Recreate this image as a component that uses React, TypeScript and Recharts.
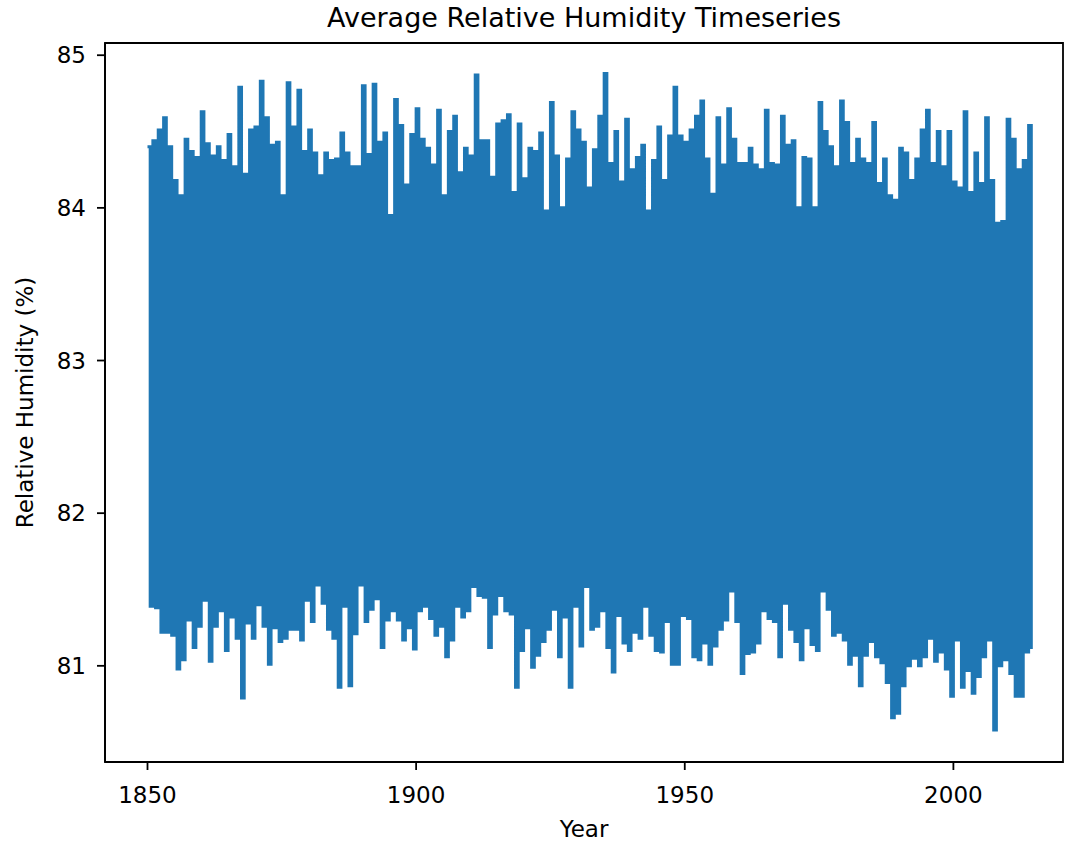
import React from 'react';
import { LineChart, Line, XAxis, YAxis, Label, ReferenceArea } from 'recharts';

// Annual peak (winter) and trough (summer) of the monthly series
const FIRST_YEAR = 1850;

const yearlyHigh = [
  // 1850-1876
  84.40, 84.44, 84.51, 84.59, 84.40, 84.18, 84.08, 84.45, 84.37, 84.33,
  84.63, 84.42, 84.34, 84.40, 84.31, 84.48, 84.27, 84.79, 84.22, 84.51,
  84.53, 84.83, 84.59, 84.41, 84.43, 84.08, 84.82,
  // 1877-1904
  84.53, 84.77, 84.37, 84.51, 84.36, 84.21, 84.36, 84.31, 84.32, 84.49,
  84.36, 84.27, 84.27, 84.80, 84.35, 84.81, 84.43, 84.49, 83.95, 84.71,
  84.54, 84.15, 84.48, 84.65, 84.45, 84.39, 84.28, 84.64,
  // 1905-1932
  84.08, 84.50, 84.60, 84.23, 84.39, 84.34, 84.87, 84.44, 84.44, 84.20,
  84.55, 84.57, 84.61, 84.10, 84.55, 84.19, 84.39, 84.37, 84.49, 83.98,
  84.69, 84.34, 84.00, 84.32, 84.63, 84.51, 84.43, 84.13,
  // 1933-1960
  84.38, 84.60, 84.88, 84.29, 84.50, 84.17, 84.58, 84.25, 84.33, 84.41,
  83.98, 84.31, 84.53, 84.18, 84.47, 84.79, 84.47, 84.43, 84.51, 84.60,
  84.70, 84.32, 84.09, 84.59, 84.28, 84.65, 84.45, 84.29,
  // 1961-1988
  84.29, 84.39, 84.28, 84.25, 84.64, 84.29, 84.28, 84.60, 84.41, 84.44,
  84.00, 84.33, 84.32, 84.00, 84.69, 84.50, 84.40, 84.27, 84.70, 84.56,
  84.29, 84.45, 84.32, 84.29, 84.56, 84.16, 84.32, 84.08,
  // 1989-2014
  84.05, 84.39, 84.36, 84.18, 84.32, 84.51, 84.64, 84.29, 84.50, 84.27,
  84.50, 84.17, 84.13, 84.63, 84.10, 84.36, 84.16, 84.59, 84.18, 83.90,
  83.91, 84.58, 84.45, 84.25, 84.31, 84.54,
];

const yearlyLow = [
  // 1850-1876
  81.39, 81.38, 81.22, 81.22, 81.20, 80.98, 81.04, 81.30, 81.12, 81.26,
  81.43, 81.03, 81.26, 81.36, 81.10, 81.32, 81.18, 80.79, 81.28, 81.18,
  81.40, 81.26, 81.01, 81.25, 81.16, 81.18, 81.24,
  // 1877-1904
  81.24, 81.17, 81.43, 81.29, 81.53, 81.41, 81.24, 81.18, 80.86, 81.39,
  80.87, 81.21, 81.53, 81.29, 81.37, 81.44, 81.12, 81.30, 81.36, 81.30,
  81.17, 81.25, 81.11, 81.36, 81.39, 81.31, 81.20, 81.26,
  // 1905-1932
  81.06, 81.17, 81.39, 81.32, 81.36, 81.52, 81.46, 81.45, 81.12, 81.34,
  81.46, 81.36, 81.34, 80.86, 81.10, 81.25, 80.99, 81.07, 81.16, 81.24,
  81.37, 81.06, 81.32, 80.86, 81.39, 81.13, 81.52, 81.24,
  // 1933-1960
  81.26, 81.36, 81.12, 80.96, 81.33, 81.15, 81.10, 81.22, 81.18, 81.39,
  81.20, 81.10, 81.09, 81.29, 81.01, 81.01, 81.33, 81.31, 81.06, 81.04,
  81.15, 81.01, 81.13, 81.24, 81.30, 81.49, 81.29, 80.95,
  // 1961-1988
  81.08, 81.09, 81.15, 81.36, 81.31, 81.29, 81.06, 81.41, 81.24, 81.16,
  81.04, 81.25, 81.14, 81.10, 81.49, 81.37, 81.20, 81.22, 81.17, 81.01,
  81.07, 80.87, 81.07, 81.16, 81.06, 81.02, 80.89, 80.66,
  // 1989-2014
  80.69, 80.87, 81.00, 81.05, 81.00, 81.06, 81.18, 81.03, 81.09, 80.98,
  80.80, 81.17, 80.86, 80.97, 80.82, 80.93, 81.06, 81.17, 80.58, 81.00,
  81.04, 80.95, 80.80, 80.80, 81.09, 81.11,
];

const xTicks = [1850, 1900, 1950, 2000];
const yTicks = [81, 82, 83, 84, 85];

const X_DOMAIN = [1842.09, 2020.4];
const Y_DOMAIN = [80.37, 85.08];

const FONT = 'DejaVu Sans, sans-serif';
const BLUE = '#1f77b4';

// peak at the start of each year, trough half a year later
const data: { t: number; rh: number }[] = [];
yearlyHigh.forEach((hi, i) => {
  data.push({ t: FIRST_YEAR + i, rh: hi });
  data.push({ t: FIRST_YEAR + i + 0.5, rh: yearlyLow[i] });
});

const tickStyle = { fontSize: 23, fill: '#000', fontFamily: FONT };
const axisLineStyle = { stroke: '#000', strokeWidth: 1.8 };

export default function App() {
  return (
    <div style={{ position: 'absolute', left: 0, top: 0, background: '#fff' }}>
      <LineChart
        width={1065}
        height={848}
        data={data}
        margin={{ top: 43, right: 2, bottom: 6, left: 5 }}
      >
        <XAxis
          dataKey="t"
          type="number"
          domain={X_DOMAIN}
          ticks={xTicks}
          allowDataOverflow
          height={80}
          tickSize={8}
          tickMargin={17}
          tick={tickStyle}
          axisLine={axisLineStyle}
          tickLine={axisLineStyle}
        >
          <Label
            content={({ viewBox }: any) => (
              <text
                x={viewBox.x + viewBox.width / 2}
                y={viewBox.y + viewBox.height - 5}
                textAnchor="middle"
                fontSize={23}
                fontFamily={FONT}
                fill="#000"
              >
                Year
              </text>
            )}
          />
        </XAxis>
        <YAxis
          type="number"
          domain={Y_DOMAIN}
          ticks={yTicks}
          allowDataOverflow
          width={100}
          tickSize={8}
          tickMargin={11}
          tick={tickStyle}
          axisLine={axisLineStyle}
          tickLine={axisLineStyle}
        >
          <Label
            content={({ viewBox }: any) => {
              const cx = viewBox.x + 20;
              const cy = viewBox.y + viewBox.height / 2;
              return (
                <text
                  x={cx}
                  y={cy}
                  transform={`rotate(-90, ${cx}, ${cy})`}
                  textAnchor="middle"
                  dominantBaseline="central"
                  fontSize={23}
                  fontFamily={FONT}
                  fill="#000"
                >
                  Relative Humidity (%)
                </text>
              );
            }}
          />
        </YAxis>
        <Line
          type="stepAfter"
          dataKey="rh"
          stroke={BLUE}
          strokeWidth={3}
          dot={false}
          activeDot={false}
          isAnimationActive={false}
        />
        {/* axes frame + title */}
        <ReferenceArea
          x1={X_DOMAIN[0]}
          x2={X_DOMAIN[1]}
          y1={Y_DOMAIN[0]}
          y2={Y_DOMAIN[1]}
          fill="none"
          fillOpacity={0}
          stroke="#000"
          strokeWidth={1.8}
          ifOverflow="visible"
        >
          <Label
            content={({ viewBox }: any) => (
              <text
                x={viewBox.x + viewBox.width / 2}
                y={viewBox.y - 16}
                textAnchor="middle"
                fontSize={27}
                fontFamily={FONT}
                fill="#000"
              >
                Average Relative Humidity Timeseries
              </text>
            )}
          />
        </ReferenceArea>
      </LineChart>
    </div>
  );
}
